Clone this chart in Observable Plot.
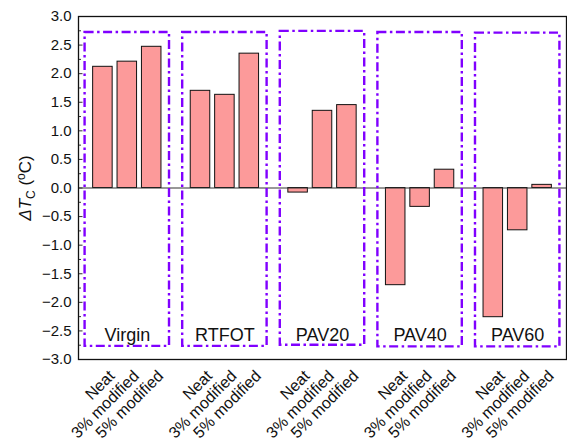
<!DOCTYPE html>
<html><head><meta charset="utf-8">
<script src="https://cdn.jsdelivr.net/npm/d3@7"></script>
<script src="https://cdn.jsdelivr.net/npm/@observablehq/plot@0.6"></script>
<style>
body{margin:0;background:#fff}
svg{font-family:"Liberation Sans",Arial,sans-serif}
</style>
</head><body><div id="chart"></div>
<script>
// ---- data ----
const groups = ["Virgin", "RTFOT", "PAV20", "PAV40", "PAV60"];
const treatments = ["Neat", "3% modified", "5% modified"];
const virgin = [2.12, 2.21, 2.47];
const rtfot  = [1.70, 1.63, 2.35];
const pav20  = [-0.08, 1.35, 1.45];
const pav40  = [-1.70, -0.33, 0.32];
const pav60  = [-2.26, -0.74, 0.055];
const boxTop    = [2.72, 2.72, 2.74, 2.72, 2.71];
const boxBottom = [-2.77, -2.77, -2.75, -2.78, -2.78];
const yMajor = [-3, -2.5, -2, -1.5, -1, -0.5, 0, 0.5, 1, 1.5, 2, 2.5, 3];
const yMinor = [-2.75, -2.25, -1.75, -1.25, -0.75, -0.25, 0.25, 0.75, 1.25, 1.75, 2.25, 2.75];

const series = [virgin, rtfot, pav20, pav40, pav60];
const bars = [];
series.forEach((vals, g) => vals.forEach((v, t) => bars.push({group: groups[g], treatment: treatments[t], slot: g * 4 + t, value: v})));
const boxes = groups.map((name, g) => ({name, center: g * 4 + 1, top: boxTop[g], bottom: boxBottom[g]}));

const half = 0.4, boxHalf = 1.73;
const chart = Plot.plot({
  width: 567, height: 441,
  marginLeft: 78, marginRight: 1, marginTop: 16, marginBottom: 82,
  style: {fontFamily: "Liberation Sans, Arial, sans-serif", background: "#fff"},
  x: {domain: [-1, 19]},
  y: {domain: [-3, 3]},
  marks: [
    Plot.rect(bars, {x1: d => d.slot - half, x2: d => d.slot + half, y1: 0, y2: "value", fill: "#fc9a9a", stroke: "#111", strokeWidth: 1}),
    Plot.ruleY([0], {stroke: "#333", strokeWidth: 1.2}),
    Plot.rect(boxes, {x1: d => d.center - boxHalf, x2: d => d.center + boxHalf, y1: "bottom", y2: "top", fill: "none", stroke: "#8000ff", strokeWidth: 2.4, strokeDasharray: "9,3.5,2.5,3.5"}),
    Plot.text(boxes, {x: "center", y: -2.57, text: "name", fontSize: 18, fill: "#111"}),
    Plot.axisY(yMajor, {tickSize: -4.5, tickPadding: 11.5, tickFormat: d3.format(".1f"), fontSize: 15, label: null, stroke: "#333", fill: "#111"}),
    Plot.axisY(yMinor, {tickSize: -3, text: null, label: null, stroke: "#333"}),
    Plot.axisX(bars.map(d => d.slot), {tickFormat: s => treatments[s % 4], tickSize: 0, tickRotate: -45, fontSize: 16, dx: 9, dy: 2, label: null, fill: "#111"}),
    Plot.frame({stroke: "#111", strokeWidth: 1.3})
  ]
});
document.getElementById("chart").appendChild(chart);

const svg = d3.select(chart);
const t = svg.append("text").attr("transform", "translate(31,188) rotate(-90)")
  .attr("text-anchor", "middle").attr("font-size", 17).attr("fill", "#111");
t.append("tspan").attr("font-style", "italic").text("ΔT");
t.append("tspan").attr("font-size", 12).attr("dy", 4).text("C");
t.append("tspan").attr("dy", -4).text(" (");
t.append("tspan").attr("font-size", 12).attr("dy", -6).text("o");
t.append("tspan").attr("dy", 6).text("C)");
</script>
</body></html>
